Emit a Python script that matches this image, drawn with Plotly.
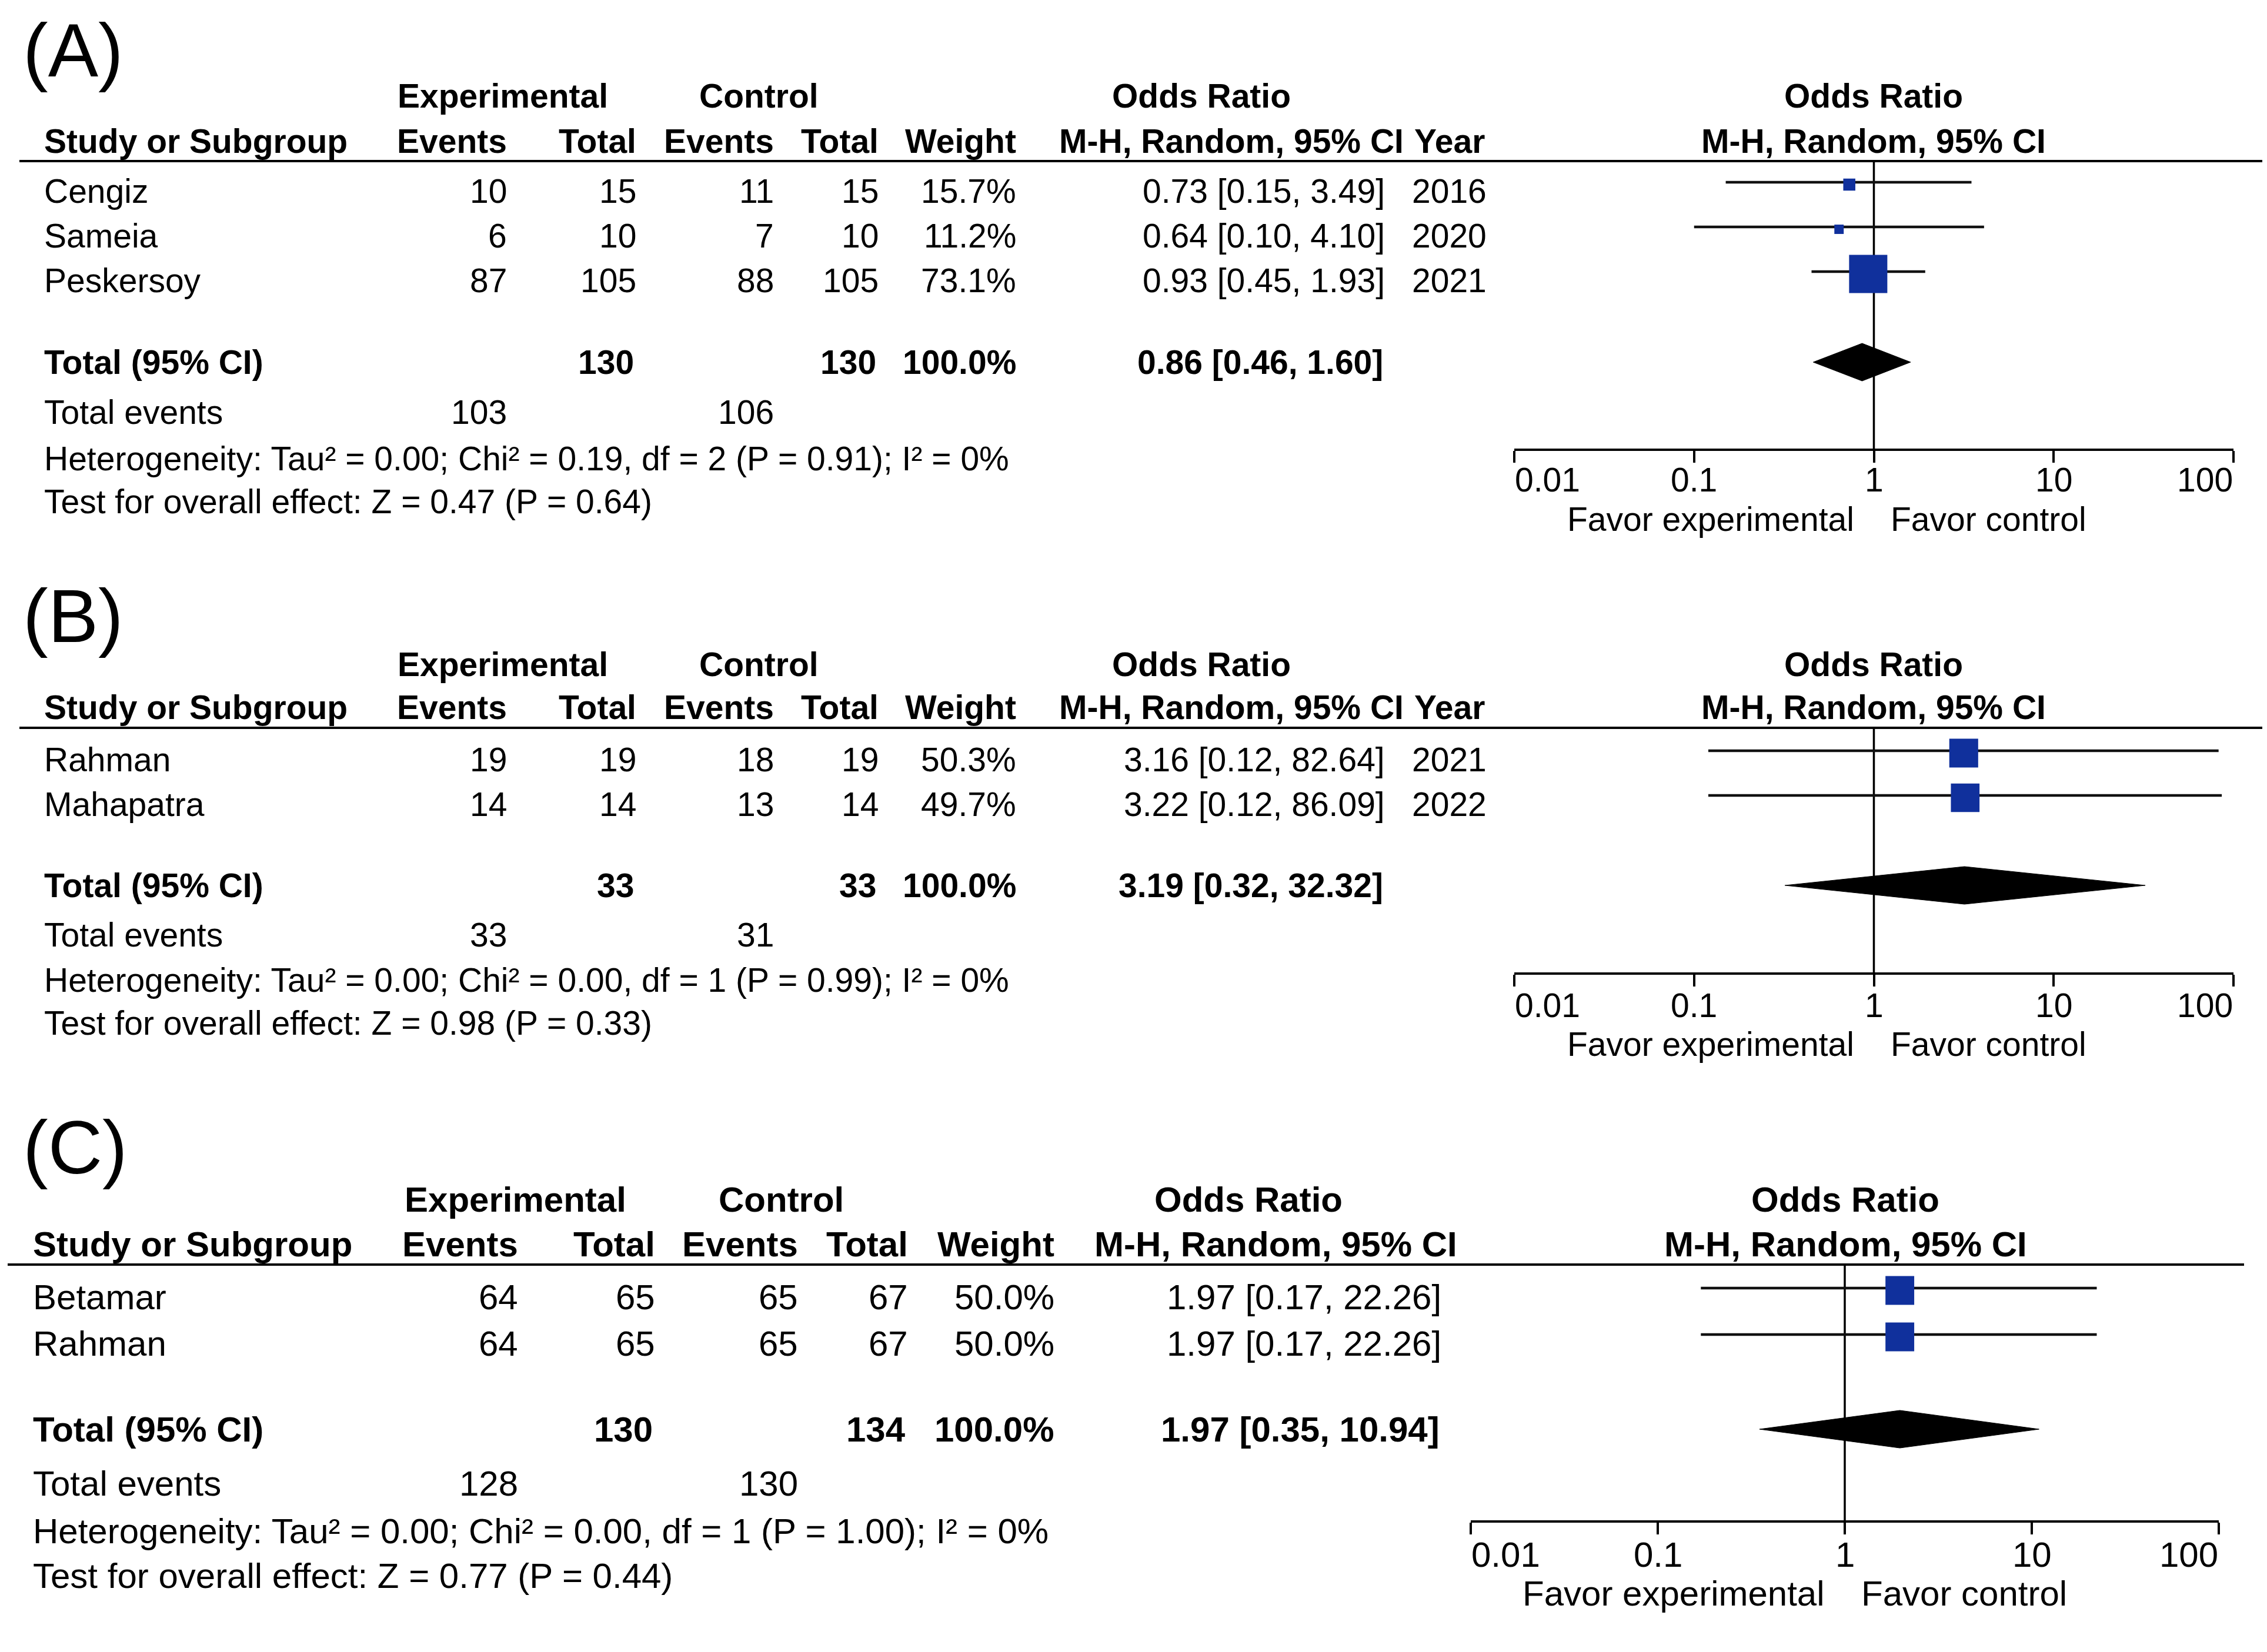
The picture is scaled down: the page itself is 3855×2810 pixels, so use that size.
import math
import plotly.graph_objects as go

# ---------------- data ----------------
# Panel A
studies_a = ["Cengiz", "Sameia", "Peskersoy"]
exp_events_a = [10, 6, 87]
exp_total_a = [15, 10, 105]
ctl_events_a = [11, 7, 88]
ctl_total_a = [15, 10, 105]
weight_a = [15.7, 11.2, 73.1]
or_a = [0.73, 0.64, 0.93]
lo_a = [0.15, 0.10, 0.45]
hi_a = [3.49, 4.10, 1.93]
year_a = [2016, 2020, 2021]
pooled_a = [0.86, 0.46, 1.60]          # OR, lower, upper
totals_a = [130, 130, 103, 106]        # exp total, ctl total, exp events, ctl events
het_a = [0.00, 0.19, 2, 0.91, 0]       # Tau2, Chi2, df, P, I2
overall_a = [0.47, 0.64]               # Z, P

# Panel B
studies_b = ["Rahman", "Mahapatra"]
exp_events_b = [19, 14]
exp_total_b = [19, 14]
ctl_events_b = [18, 13]
ctl_total_b = [19, 14]
weight_b = [50.3, 49.7]
or_b = [3.16, 3.22]
lo_b = [0.12, 0.12]
hi_b = [82.64, 86.09]
year_b = [2021, 2022]
pooled_b = [3.19, 0.32, 32.32]
totals_b = [33, 33, 33, 31]
het_b = [0.00, 0.00, 1, 0.99, 0]
overall_b = [0.98, 0.33]

# Panel C
studies_c = ["Betamar", "Rahman"]
exp_events_c = [64, 64]
exp_total_c = [65, 65]
ctl_events_c = [65, 65]
ctl_total_c = [67, 67]
weight_c = [50.0, 50.0]
or_c = [1.97, 1.97]
lo_c = [0.17, 0.17]
hi_c = [22.26, 22.26]
year_c = None
pooled_c = [1.97, 0.35, 10.94]
totals_c = [130, 134, 128, 130]
het_c = [0.00, 0.00, 1, 1.00, 0]
overall_c = [0.77, 0.44]

tick_vals = [0.01, 0.1, 1, 10, 100]
tick_text = ["0.01", "0.1", "1", "10", "100"]

# ---------------- layout geometry (pixels) ----------------
W, H = 3855, 2810
FONT = "Liberation Sans, Arial, Helvetica, sans-serif"
BLUE = "#10309C"

cols_ab = dict(name=66, exp_ev=855, exp_tot=1075, ctl_ev=1309, ctl_tot=1487,
               weight=1721, ci=2348, year=2392, hdr_exp=847, hdr_ctl=1282,
               hdr_or=2035, hdr_mh=2380, hdr_year=2396, px0=2567, px1=3790,
               phdr=3178, lx0=25, lx1=3850)
cols_c = dict(name=47, exp_ev=874, exp_tot=1107, ctl_ev=1350, ctl_tot=1537,
              weight=1786, ci=2444, year=None, hdr_exp=868, hdr_ctl=1320,
              hdr_or=2115, hdr_mh=2471, hdr_year=None, px0=2493, px1=3765,
              phdr=3130, lx0=5, lx1=3808)

panels = [
    dict(label="(A)", label_y=78, hdr1=155, hdr2=232, line=266, row0=317, dy=76,
         total=608, te=693, het=772, test=845, axis=755, tick=808, favor=875,
         fs=57, cols=cols_ab,
         data=(studies_a, exp_events_a, exp_total_a, ctl_events_a, ctl_total_a,
               weight_a, or_a, lo_a, hi_a, year_a, pooled_a, totals_a, het_a, overall_a)),
    dict(label="(B)", label_y=1040, hdr1=1122, hdr2=1195, line=1230, row0=1284, dy=76,
         total=1498, te=1582, het=1659, test=1732, axis=1646, tick=1702, favor=1768,
         fs=57, cols=cols_ab,
         data=(studies_b, exp_events_b, exp_total_b, ctl_events_b, ctl_total_b,
               weight_b, or_b, lo_b, hi_b, year_b, pooled_b, totals_b, het_b, overall_b)),
    dict(label="(C)", label_y=1943, hdr1=2032, hdr2=2108, line=2143, row0=2198, dy=79,
         total=2423, te=2515, het=2596, test=2672, axis=2578, tick=2636, favor=2702,
         fs=60, cols=cols_c,
         data=(studies_c, exp_events_c, exp_total_c, ctl_events_c, ctl_total_c,
               weight_c, or_c, lo_c, hi_c, year_c, pooled_c, totals_c, het_c, overall_c)),
]

annotations = []
shapes = []
fig = go.Figure()
layout_axes = {}


def txt(x, y, s, anchor="left", size=56, bold=False, xref="paper", xshift=0):
    annotations.append(dict(
        x=(x / W) if xref == "paper" else x, y=1 - y / H,
        xref=xref, yref="paper", text=("<b>%s</b>" % s) if bold else s,
        showarrow=False, xanchor=anchor, yanchor="middle", xshift=xshift,
        borderpad=0, font=dict(size=size, color="black", family=FONT)))


for k, p in enumerate(panels):
    (studies, ee, et, ce, ct, wt, orr, lo, hi, yr, pooled, tots, het, ov) = p["data"]
    c = p["cols"]
    fs = p["fs"]
    ax = "" if k == 0 else str(k + 1)
    xname, yname = "x" + ax, "y" + ax
    ov_name = str(k + 4)

    # panel label
    txt(30, p["label_y"], p["label"], "left", size=128)

    # headers
    txt(c["hdr_exp"], p["hdr1"], "Experimental", "center", fs, True)
    txt(c["hdr_ctl"], p["hdr1"], "Control", "center", fs, True)
    txt(c["hdr_or"], p["hdr1"], "Odds Ratio", "center", fs, True)
    txt(c["phdr"], p["hdr1"], "Odds Ratio", "center", fs, True)
    txt(c["name"], p["hdr2"], "Study or Subgroup", "left", fs, True)
    txt(c["exp_ev"], p["hdr2"], "Events", "right", fs, True)
    txt(c["exp_tot"], p["hdr2"], "Total", "right", fs, True)
    txt(c["ctl_ev"], p["hdr2"], "Events", "right", fs, True)
    txt(c["ctl_tot"], p["hdr2"], "Total", "right", fs, True)
    txt(c["weight"], p["hdr2"], "Weight", "right", fs, True)
    txt(c["hdr_mh"], p["hdr2"], "M-H, Random, 95% CI", "right", fs, True)
    if yr is not None:
        txt(c["hdr_year"], p["hdr2"], "Year", "left", fs, True)
    txt(c["phdr"], p["hdr2"], "M-H, Random, 95% CI", "center", fs, True)

    shapes.append(dict(type="line", xref="paper", yref="paper",
                       x0=c["lx0"] / W, x1=c["lx1"] / W,
                       y0=1 - p["line"] / H, y1=1 - p["line"] / H,
                       line=dict(color="black", width=4)))

    # study rows
    row_y = [p["row0"] + i * p["dy"] for i in range(len(studies))]
    for i, name in enumerate(studies):
        y = row_y[i]
        txt(c["name"], y, name, "left", fs)
        txt(c["exp_ev"], y, str(ee[i]), "right", fs)
        txt(c["exp_tot"], y, str(et[i]), "right", fs)
        txt(c["ctl_ev"], y, str(ce[i]), "right", fs)
        txt(c["ctl_tot"], y, str(ct[i]), "right", fs)
        txt(c["weight"], y, "%.1f%%" % wt[i], "right", fs)
        txt(c["ci"], y, "%.2f [%.2f, %.2f]" % (orr[i], lo[i], hi[i]), "right", fs)
        if yr is not None:
            txt(c["year"], y, str(yr[i]), "left", fs)

    # totals
    txt(c["name"], p["total"], "Total (95% CI)", "left", fs, True)
    txt(c["exp_tot"], p["total"], str(tots[0]), "right", fs, True, xshift=-4)
    txt(c["ctl_tot"], p["total"], str(tots[1]), "right", fs, True, xshift=-4)
    txt(c["weight"], p["total"], "%.1f%%" % sum(wt), "right", fs, True)
    txt(c["ci"], p["total"], "%.2f [%.2f, %.2f]" % tuple(pooled), "right", fs, True,
        xshift=-3)
    txt(c["name"], p["te"], "Total events", "left", fs)
    txt(c["exp_ev"], p["te"], str(tots[2]), "right", fs)
    txt(c["ctl_ev"], p["te"], str(tots[3]), "right", fs)
    txt(c["name"], p["het"],
        "Heterogeneity: Tau² = %.2f; Chi² = %.2f, df = %d (P = %.2f); I² = %d%%" % tuple(het),
        "left", fs)
    txt(c["name"], p["test"],
        "Test for overall effect: Z = %.2f (P = %.2f)" % tuple(ov), "left", fs)

    # ---- forest plot ----
    line_y = [y - 15 for y in row_y]
    ci_x, ci_y = [], []
    for i in range(len(studies)):
        ci_x += [lo[i], hi[i], None]
        ci_y += [line_y[i], line_y[i], None]
    fig.add_trace(go.Scatter(x=[1, 1], y=[p["line"], p["axis"]], mode="lines",
                             line=dict(color="black", width=3.5),
                             xaxis=xname, yaxis=yname, hoverinfo="skip",
                             showlegend=False))
    fig.add_trace(go.Scatter(x=ci_x, y=ci_y, mode="lines",
                             line=dict(color="#111111", width=4.5),
                             xaxis=xname, yaxis=yname, hoverinfo="skip",
                             showlegend=False))
    fig.add_trace(go.Scatter(x=orr, y=[y + 4 for y in line_y], mode="markers",
                             marker=dict(symbol="square", color=BLUE, opacity=1,
                                         size=[2.6 * w ** 0.75 for w in wt],
                                         line=dict(width=0)),
                             xaxis=xname, yaxis=yname, showlegend=False,
                             text=studies))
    hh = 32
    yc = p["total"]
    fig.add_trace(go.Scatter(x=[pooled[1], pooled[0], pooled[2], pooled[0], pooled[1]],
                             y=[yc, yc - hh, yc, yc + hh, yc], mode="lines",
                             fill="toself", fillcolor="black",
                             line=dict(color="black", width=1),
                             xaxis=xname, yaxis=yname, showlegend=False,
                             hoverinfo="skip"))

    dom_x = [c["px0"] / W, c["px1"] / W]
    dom_y = [1 - p["axis"] / H, 1 - p["line"] / H]
    layout_axes["xaxis" + ax] = dict(
        type="log", range=[-2, 2], domain=dom_x, anchor=yname,
        showline=True, linecolor="black", linewidth=4, showgrid=False,
        zeroline=False, ticks="outside", ticklen=20, tickwidth=4,
        tickcolor="black", tickvals=tick_vals, showticklabels=False,
        fixedrange=True)
    layout_axes["xaxis" + ov_name] = dict(
        type="log", range=[-2, 2], overlaying=xname, anchor=yname,
        showline=False, showgrid=False, zeroline=False, ticks="inside",
        ticklen=20, tickwidth=4, tickcolor="black", tickvals=tick_vals,
        showticklabels=False, fixedrange=True)
    layout_axes["yaxis" + ax] = dict(
        range=[p["axis"], p["line"]], domain=dom_y, anchor=xname,
        visible=False, showgrid=False, zeroline=False, fixedrange=True)

    # tick labels
    anchors = ["left", "center", "center", "center", "right"]
    for v, t, a in zip(tick_vals, tick_text, anchors):
        txt(math.log10(v), p["tick"], t, a, fs, xref=xname)
    txt(0, p["favor"], "Favor experimental", "right", fs, xref=xname, xshift=-33)
    txt(0, p["favor"], "Favor control", "left", fs, xref=xname, xshift=27)

fig.update_layout(
    width=W, height=H, margin=dict(l=0, r=0, t=0, b=0),
    paper_bgcolor="white", plot_bgcolor="rgba(0,0,0,0)",
    showlegend=False, annotations=annotations, shapes=shapes,
    font=dict(family=FONT, color="black"),
    **layout_axes)

fig.write_html("out.html")
